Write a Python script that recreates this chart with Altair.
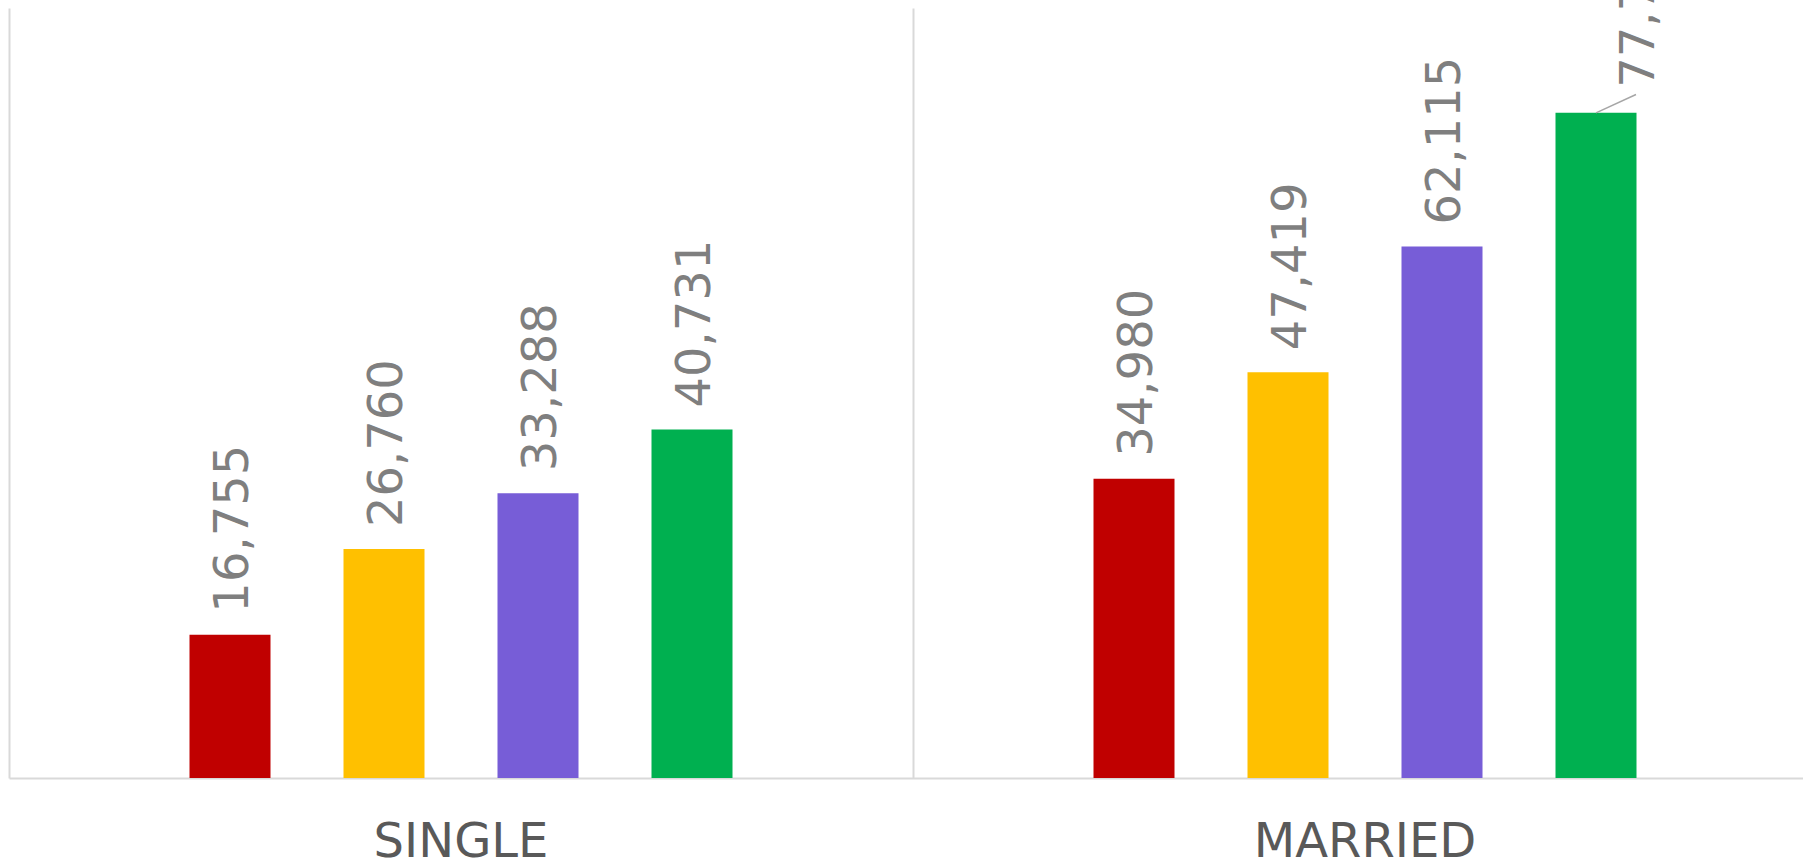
import altair as alt
import pandas as pd

groups = ["SINGLE", "MARRIED"]
series = ["Series 1", "Series 2", "Series 3", "Series 4"]
single_values = [16755, 26760, 33288, 40731]
married_values = [34980, 47419, 62115, 77745]
colors = ["#C00000", "#FFC000", "#775DD7", "#00B050"]

rows = []
for g, vals in zip(groups, [single_values, married_values]):
    for s, v in zip(series, vals):
        rows.append({"group": g, "series": s, "value": v})
df = pd.DataFrame(rows)

x_enc = alt.X(
    "group:N",
    sort=groups,
    title=None,
    scale=alt.Scale(domain=groups, paddingInner=0, paddingOuter=0, range=[0, 1808]),
    axis=alt.Axis(
        grid=True,
        bandPosition=0,
        gridColor="#d9d9d9",
        gridWidth=2,
        domainColor="#d9d9d9",
        domainWidth=2,
        ticks=False,
        tickSize=0,
        labelFont="DejaVu Sans",
        labelFontSize=48,
        labelColor="#595959",
        labelBaseline="alphabetic",
        labelPadding=78,
        labelAngle=0,
        labelLimit=0,
        labelOverlap=False,
        labelBound=False,
        labelFlush=False,
    ),
)
xo_enc = alt.XOffset(
    "series:N",
    sort=series,
    scale=alt.Scale(domain=series, paddingInner=0.474, paddingOuter=0, range=[180.5, 723.5]),
)
y_enc = alt.Y(
    "value:Q",
    scale=alt.Scale(domain=[0, 90000], nice=False, zero=True),
    axis=None,
)
color_enc = alt.Color(
    "series:N", scale=alt.Scale(domain=series, range=colors), legend=None
)

base = alt.Chart(df)

bars = base.mark_bar().encode(x=x_enc, xOffset=xo_enc, y=y_enc, color=color_enc)

is_last = (alt.datum.group == groups[-1]) & (alt.datum.series == series[-1])

labels = (
    base.transform_filter(~is_last)
    .mark_text(
        angle=270,
        align="left",
        baseline="middle",
        dx=22,
        dy=4,
        font="DejaVu Sans",
        fontSize=48,
        color="#7f7f7f",
    )
    .encode(x=x_enc, xOffset=xo_enc, y=y_enc, text=alt.Text("value:Q", format=",.0f"))
)

last_label = (
    base.transform_filter(is_last)
    .mark_text(
        angle=270,
        align="left",
        baseline="middle",
        dx=25,
        dy=44,
        font="DejaVu Sans",
        fontSize=48,
        color="#7f7f7f",
    )
    .encode(x=x_enc, xOffset=xo_enc, y=y_enc, text=alt.Text("value:Q", format=",.0f"))
)

leader = (
    base.transform_filter(is_last)
    .mark_point(
        shape="M0,0L1,-0.46",
        size=6400,
        filled=False,
        stroke="#a6a6a6",
        strokeWidth=1.5,
        opacity=1,
    )
    .encode(x=x_enc, xOffset=xo_enc, y=y_enc)
)

chart = (
    alt.layer(bars, labels, last_label, leader)
    .properties(
        width=1794,
        height=770,
        autosize=alt.AutoSizeParams(type="none"),
        padding={"left": 9, "top": 8, "right": 0, "bottom": 84},
        background="white",
    )
    .configure_view(strokeWidth=0)
)

chart.save("out.html", embed_options={"renderer": "svg", "actions": False})
